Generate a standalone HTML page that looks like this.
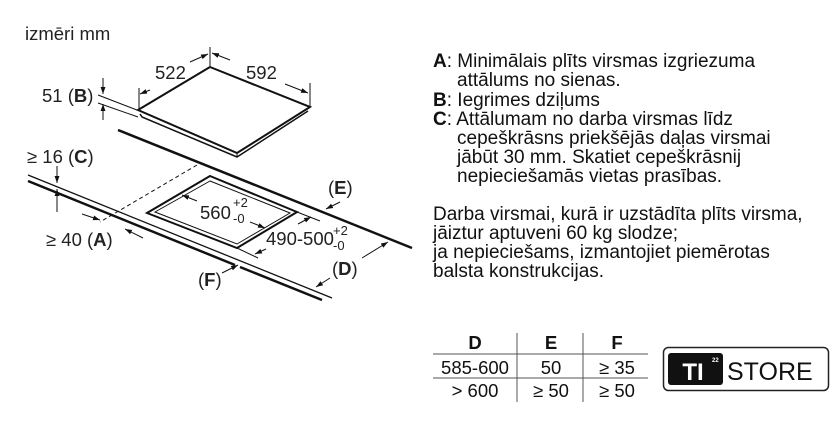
<!DOCTYPE html>
<html><head><meta charset="utf-8"><style>
body{margin:0;background:#fff;}
svg{display:block;font-family:"Liberation Sans",sans-serif;}
</style></head><body>
<svg width="840" height="440" viewBox="0 0 840 440" xmlns="http://www.w3.org/2000/svg">
<defs>
<marker id="a" viewBox="0 0 10 10" refX="10" refY="5" markerWidth="7" markerHeight="7" orient="auto-start-reverse"><path d="M0,1.5 L10,5 L0,8.5 z" fill="#111"/></marker>
</defs>
<rect width="840" height="440" fill="#fff"/>
<g fill="#222" font-size="18.5">
<text x="25" y="40">izmēri mm</text>
<text x="155" y="79">522</text>
<text x="246" y="79">592</text>
<text x="42" y="102">51 (<tspan font-weight="bold">B</tspan>)</text>
<text x="27" y="163">≥ 16 (<tspan font-weight="bold">C</tspan>)</text>
<text x="46" y="246">≥ 40 (<tspan font-weight="bold">A</tspan>)</text>
<text x="328" y="194">(<tspan font-weight="bold">E</tspan>)</text>
<text x="332" y="275">(<tspan font-weight="bold">D</tspan>)</text>
<text x="198" y="286">(<tspan font-weight="bold">F</tspan>)</text>
<text x="200" y="219">560</text>
<text x="266" y="245">490-500</text>
</g>
<g fill="#222" font-size="13">
<text x="233" y="207">+2</text>
<text x="233" y="223">-0</text>
<text x="333" y="235">+2</text>
<text x="333" y="250">-0</text>
</g>
<g stroke="#111" fill="none" stroke-width="1">
<path d="M210,67 L310,107 L237,153 L138,110 Z" stroke-width="2" fill="#fff"/>
<path d="M140,114 L142,117 L237,157 L308,111" stroke-width="1.5"/>
<line x1="237" y1="153" x2="237" y2="157"/>
<line x1="210" y1="47" x2="210" y2="66"/>
<line x1="139" y1="88" x2="139" y2="109"/>
<line x1="310" y1="83" x2="310" y2="106"/>
<line x1="190" y1="62" x2="208" y2="54" marker-end="url(#a)"/>
<line x1="150" y1="90" x2="140" y2="94" marker-end="url(#a)"/>
<line x1="230" y1="60" x2="212" y2="53" marker-end="url(#a)"/>
<line x1="285" y1="84" x2="308" y2="93" marker-end="url(#a)"/>
<line x1="98" y1="95" x2="137" y2="110"/>
<line x1="98" y1="103" x2="138" y2="117"/>
<line x1="103" y1="78" x2="103" y2="94" marker-end="url(#a)"/>
<line x1="103" y1="120" x2="103" y2="104" marker-end="url(#a)"/>
<line x1="118" y1="130" x2="412" y2="248" stroke-width="2.5"/>
<line x1="28" y1="175" x2="332" y2="298" stroke-width="1.3"/>
<line x1="28" y1="181" x2="235" y2="265" stroke-width="2.5"/>
<line x1="240" y1="267" x2="322" y2="300" stroke-width="2.5"/>
<line x1="197" y1="165" x2="100" y2="222" stroke-dasharray="4,3"/>
<path d="M210,176 L297,212 L237,248 L147,213 Z" stroke-width="2"/>
<path d="M210,181 L290,213 L237,244 L155,212 Z" stroke-width="1"/>
<line x1="57" y1="166" x2="57" y2="183" marker-end="url(#a)"/>
<line x1="57" y1="212" x2="57" y2="189" marker-end="url(#a)"/>
<line x1="82" y1="214" x2="100" y2="220" marker-end="url(#a)"/>
<line x1="143" y1="238" x2="125" y2="229" marker-end="url(#a)"/>
<line x1="340" y1="202" x2="326" y2="209" marker-end="url(#a)"/>
<line x1="222" y1="273" x2="238" y2="265" marker-end="url(#a)"/>
<line x1="330" y1="278" x2="316" y2="287" marker-end="url(#a)"/>
<line x1="362" y1="258" x2="388" y2="242" marker-end="url(#a)"/>
<line x1="197" y1="201" x2="182" y2="195" marker-end="url(#a)"/>
<line x1="250" y1="222" x2="265" y2="228" marker-end="url(#a)"/>
<line x1="297" y1="212" x2="320" y2="221"/>
<line x1="237" y1="248" x2="258" y2="258"/>
<line x1="298" y1="224" x2="311" y2="217" marker-end="url(#a)"/>
<line x1="266" y1="249" x2="255" y2="254" marker-end="url(#a)"/>
</g>
<g fill="#111" font-size="19">
<text x="433" y="67"><tspan font-weight="bold">A</tspan>: Minimālais plīts virsmas izgriezuma</text>
<text x="457" y="86">attālums no sienas.</text>
<text x="433" y="106"><tspan font-weight="bold">B</tspan>: Iegrimes dziļums</text>
<text x="433" y="125"><tspan font-weight="bold">C</tspan>: Attālumam no darba virsmas līdz</text>
<text x="457" y="144">cepeškrāsns priekšējās daļas virsmai</text>
<text x="457" y="163">jābūt 30 mm. Skatiet cepeškrāsnij</text>
<text x="457" y="182">nepieciešamās vietas prasības.</text>
<text x="433" y="220">Darba virsmai, kurā ir uzstādīta plīts virsma,</text>
<text x="433" y="239">jāiztur aptuveni 60 kg slodze;</text>
<text x="433" y="258">ja nepieciešams, izmantojiet piemērotas</text>
<text x="433" y="277">balsta konstrukcijas.</text>
</g>
<g fill="#111" font-size="18.5" text-anchor="middle">
<text x="475" y="349" font-weight="bold">D</text>
<text x="551" y="349" font-weight="bold">E</text>
<text x="617" y="349" font-weight="bold">F</text>
<text x="475" y="374">585-600</text>
<text x="551" y="374">50</text>
<text x="617" y="374">≥ 35</text>
<text x="475" y="397">&gt; 600</text>
<text x="551" y="397">≥ 50</text>
<text x="617" y="397">≥ 50</text>
</g>
<g stroke="#555" stroke-width="1">
<line x1="433" y1="354" x2="648" y2="354"/>
<line x1="433" y1="378" x2="648" y2="378"/>
<line x1="517" y1="333" x2="517" y2="402"/>
<line x1="583" y1="333" x2="583" y2="402"/>
</g>
<rect x="663.5" y="347.5" width="165" height="43" rx="5" fill="#fff" stroke="#222" stroke-width="1.5"/>
<rect x="668" y="353" width="55" height="32" rx="3" fill="#111"/>
<text x="693" y="380" font-size="24" font-weight="bold" fill="#fff" text-anchor="middle">TI</text>
<text x="712" y="362" font-size="6" font-weight="bold" fill="#fff">22</text>
<text x="727" y="380" font-size="25" fill="#111">STORE</text>
</svg>
</body></html>
